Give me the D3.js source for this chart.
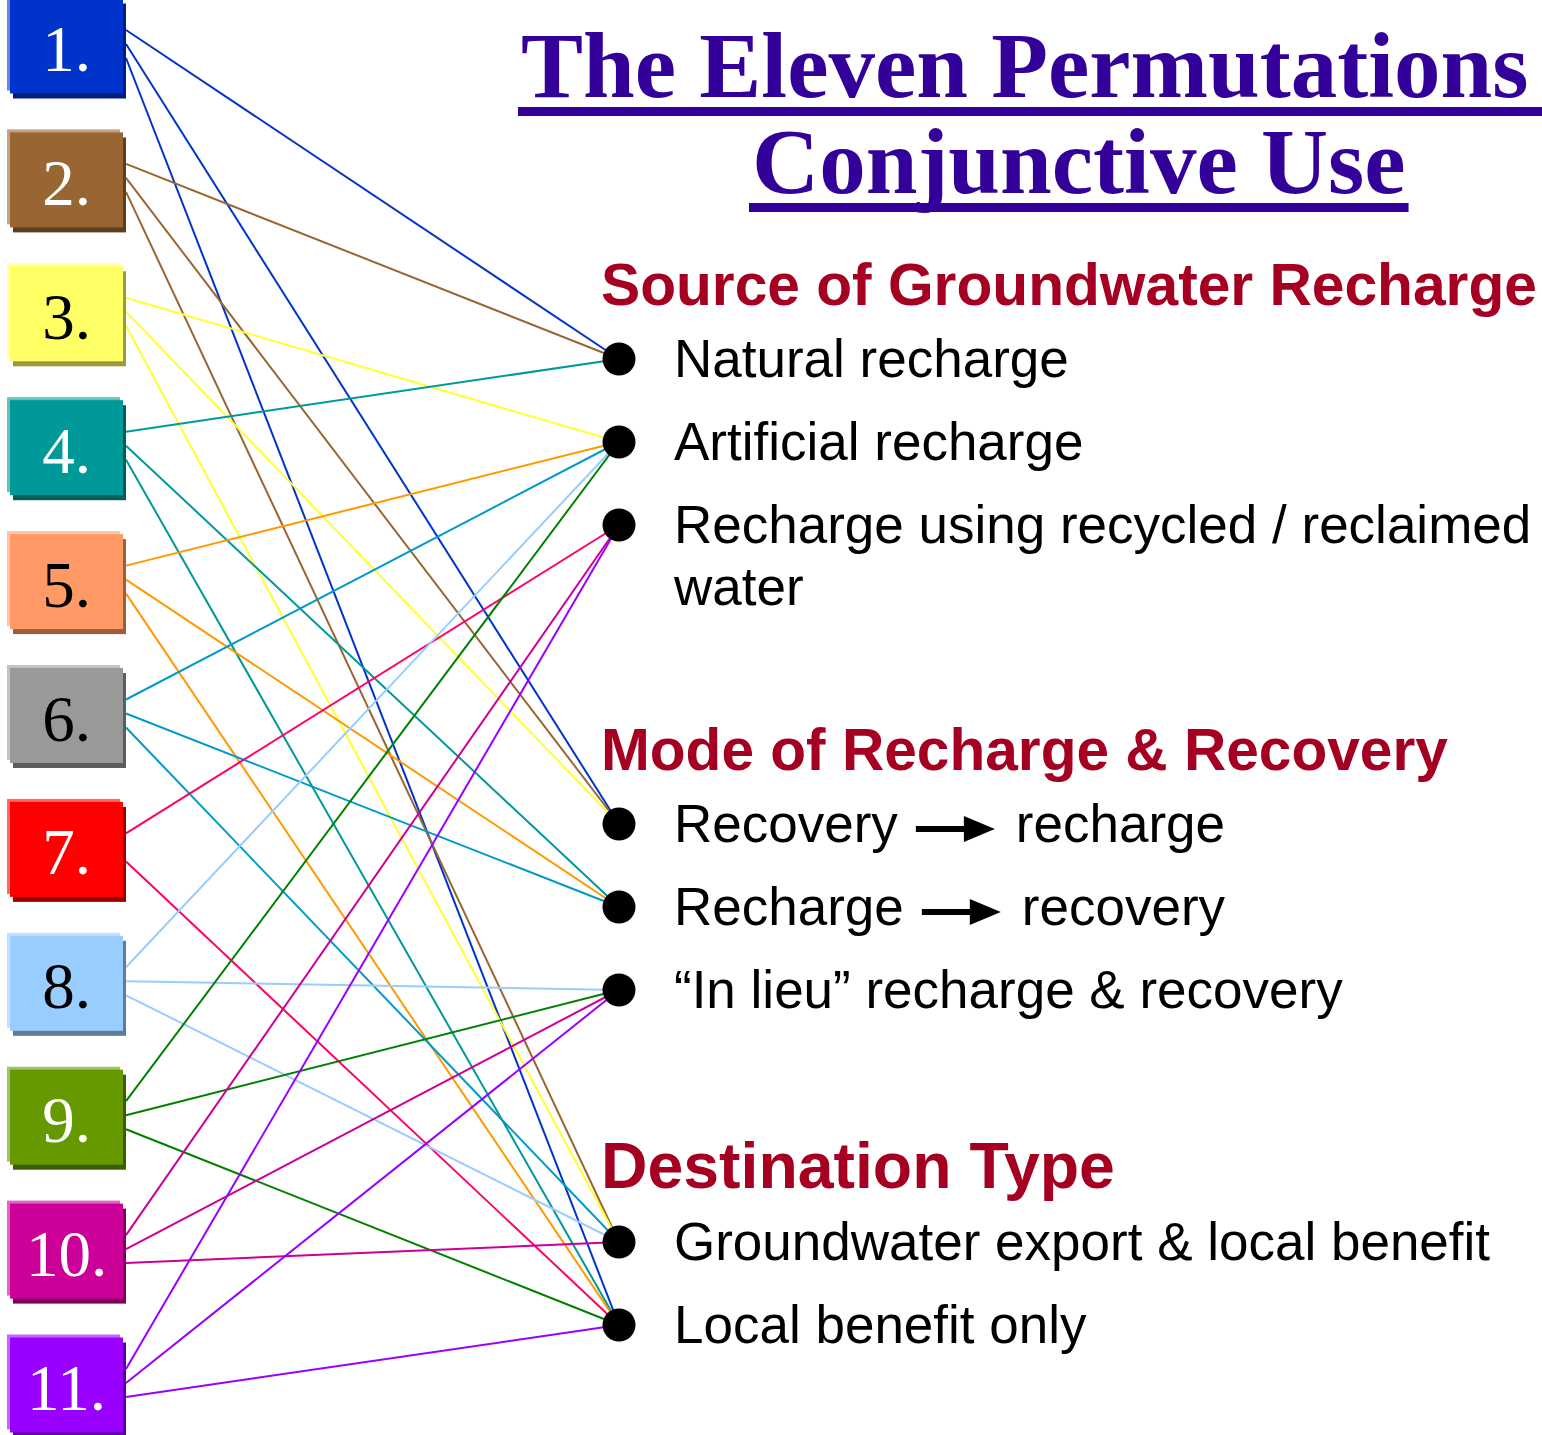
<!DOCTYPE html>
<html>
<head>
<meta charset="utf-8">
<title>The Eleven Permutations - Conjunctive Use</title>
<script src="https://cdn.jsdelivr.net/npm/d3@7"></script>
<style>
  body { margin: 0; background: #fff; }
  svg { display: block; }
  .title { font-family: "Liberation Serif", "Times New Roman", serif; font-weight: bold; font-size: 93px; fill: #330099; }
  .heading { font-family: "Liberation Sans", Arial, sans-serif; font-weight: bold; font-size: 58.6px; fill: #a50021; }
  .item { font-family: "Liberation Sans", Arial, sans-serif; font-size: 53px; fill: #000; }
  .box-label { font-family: "Liberation Serif", "Times New Roman", serif; font-size: 65px; }
</style>
</head>
<body>
<div id="chart"></div>
<script>
// data
var titleLines = ["The Eleven Permutations", "Conjunctive Use"];
var permutations = ["1.", "2.", "3.", "4.", "5.", "6.", "7.", "8.", "9.", "10.", "11."];
var boxColors = ["#0033cc", "#996633", "#ffff66", "#009999", "#ff9966", "#999999",
                 "#ff0000", "#99ccff", "#669900", "#cc0099", "#9900ff"];
var lineColors = ["#0033cc", "#996633", "#ffff33", "#009999", "#ff9900", "#0099cc",
                  "#ff0066", "#99ccff", "#008000", "#cc0099", "#9900ff"];
var groupNames = ["Source of Groundwater Recharge", "Mode of Recharge & Recovery", "Destination Type"];
var sources = ["Natural recharge", "Artificial recharge", "Recharge using recycled / reclaimed water"];
var modes = ["Recovery \u2192 recharge", "Recharge \u2192 recovery", "\u201cIn lieu\u201d recharge & recovery"];
var destinations = ["Groundwater export & local benefit", "Local benefit only"];
// which item of each group a permutation uses (null = none)
var permSource = [0, 0, 1, 0, 1, 1, 2, 1, 1, 2, 2];
var permMode   = [0, 0, 0, 1, 1, 1, null, 2, 2, 2, 2];
var permDest   = [1, 0, 0, 1, 1, 0, 1, 0, 1, 0, 1];

var groupItems = [sources, modes, destinations];
var permChoices = [permSource, permMode, permDest];

var width = 1542, height = 1435;

var svg = d3.select("#chart").append("svg")
    .attr("width", width)
    .attr("height", height);

var y = d3.scalePoint()
    .domain(permutations)
    .range([46, 1385]);

var boxX = 10, boxW = 113, boxH = 95;
var dotX = 619, dotR = 16.5;
var textX = 674, headX = 601;
// layout of the text column
var headWidths = [936, 847, 514],
    sectionGaps = [165, 180];

var lineLayer = svg.append("g").attr("class", "links");
var dotLayer = svg.append("g").attr("class", "dots");
var textLayer = svg.append("g").attr("class", "text");

// title
titleLines.forEach(function(t, i) {
  var tx = i == 0 ? 521 : 752,
      ty = i == 0 ? 97 : 193;
  var txt = svg.append("text")
      .attr("class", "title")
      .attr("x", tx)
      .attr("y", ty)
      .text(t);
  var w = txt.node().getComputedTextLength();
  svg.append("rect")
      .attr("x", tx - 3)
      .attr("y", ty + 10)
      .attr("width", w + (i == 0 ? 20 : 6))
      .attr("height", 9)
      .attr("fill", "#330099");
});

// right side: headings, items, dots
var dotPos = [[], [], []];
var cursor = 305;

function addArrow(g, x0, yb) {
  var yc = yb - 13;
  g.append("rect")
      .attr("x", x0)
      .attr("y", yc - 3)
      .attr("width", 50)
      .attr("height", 6)
      .attr("fill", "#000");
  g.append("polygon")
      .attr("points", (x0 + 48) + "," + (yc - 13) + " " + (x0 + 79) + "," + yc + " " + (x0 + 48) + "," + (yc + 13))
      .attr("fill", "#000");
}

groupNames.forEach(function(name, gi) {
  var h = textLayer.append("text")
      .attr("class", "heading")
      .attr("x", headX)
      .attr("y", cursor)
      .text(name);
  var hw = h.node().getComputedTextLength();
  h.style("font-size", (58.6 * headWidths[gi] / hw) + "px");

  groupItems[gi].forEach(function(label, ii) {
    cursor += ii == 0 ? 72 : 83;
    dotPos[gi][ii] = [dotX, cursor - 18];

    if (label.indexOf("\u2192") >= 0) {
      var parts = label.split("\u2192").map(function(s) { return s.trim(); });
      var t1 = textLayer.append("text").attr("class", "item")
          .attr("x", textX).attr("y", cursor).text(parts[0]);
      var end1 = textX + t1.node().getComputedTextLength();
      addArrow(textLayer, end1 + 18, cursor);
      textLayer.append("text").attr("class", "item")
          .attr("x", end1 + 18 + 79 + 21).attr("y", cursor).text(parts[1]);
      return;
    }

    // simple word wrap
    var words = label.split(" "), line = [];
    var t = textLayer.append("text").attr("class", "item")
        .attr("x", textX).attr("y", cursor);
    words.forEach(function(w) {
      line.push(w);
      t.text(line.join(" "));
      if (t.node().getComputedTextLength() > width - textX - 4 && line.length > 1) {
        line.pop();
        t.text(line.join(" "));
        line = [w];
        cursor += 62;
        t = textLayer.append("text").attr("class", "item")
            .attr("x", textX).attr("y", cursor).text(w);
      }
    });
  });
  cursor += sectionGaps[gi] || 0;
});

// boxes
var boxes = svg.append("g").attr("class", "boxes")
  .selectAll("g")
  .data(permutations)
  .enter().append("g")
    .attr("transform", function(d) { return "translate(" + boxX + "," + (y(d) - boxH / 2) + ")"; });

boxes.append("rect")
    .attr("x", -3).attr("y", -3)
    .attr("width", boxW).attr("height", boxH)
    .attr("fill", function(d, i) { return d3.interpolateRgb(boxColors[i], "#fff")(0.4); });
boxes.append("rect")
    .attr("x", 3).attr("y", 5)
    .attr("width", boxW).attr("height", boxH)
    .attr("fill", function(d, i) { return d3.color(boxColors[i]).darker(1.4); });
boxes.append("rect")
    .attr("width", boxW).attr("height", boxH)
    .attr("fill", function(d, i) { return boxColors[i]; });
boxes.append("text")
    .attr("class", "box-label")
    .attr("x", boxW / 2)
    .attr("y", boxH / 2 + 25)
    .attr("text-anchor", "middle")
    .attr("fill", function(d, i) { return d3.hsl(boxColors[i]).l > 0.55 ? "#000" : "#fff"; })
    .text(function(d) { return d; });

// links
var links = [];
permutations.forEach(function(p, i) {
  permChoices.forEach(function(choice, gi) {
    if (choice[i] == null) return;
    links.push({perm: p, i: i, k: gi, target: dotPos[gi][choice[i]]});
  });
});

lineLayer.selectAll("line")
  .data(links)
  .enter().append("line")
    .attr("x1", boxX + boxW + 3)
    .attr("y1", function(d) { return y(d.perm) - 16 + 14 * d.k; })
    .attr("x2", function(d) { return d.target[0]; })
    .attr("y2", function(d) { return d.target[1]; })
    .attr("stroke", function(d) { return lineColors[d.i]; })
    .attr("stroke-width", 2);

dotLayer.selectAll("circle")
  .data(d3.merge(dotPos))
  .enter().append("circle")
    .attr("cx", function(d) { return d[0]; })
    .attr("cy", function(d) { return d[1]; })
    .attr("r", dotR)
    .attr("fill", "#000");
</script>
</body>
</html>
